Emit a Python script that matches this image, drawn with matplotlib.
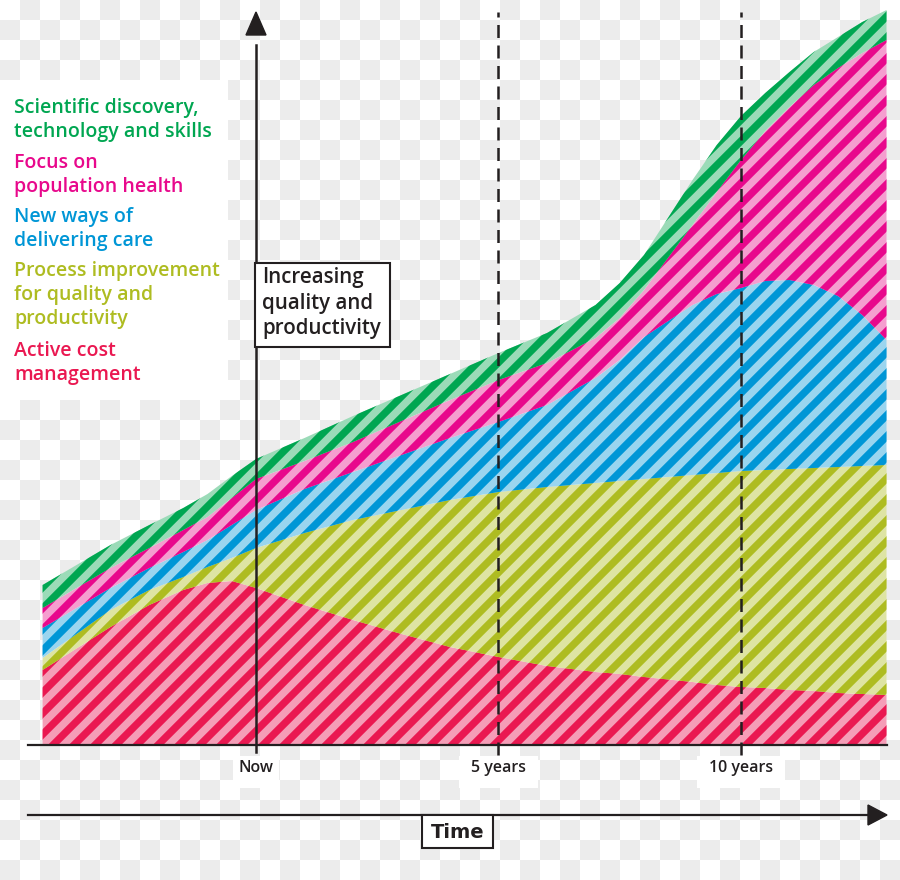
import numpy as np
import matplotlib
matplotlib.use('Agg')
import matplotlib.pyplot as plt
from matplotlib.collections import LineCollection
from matplotlib.patches import Rectangle, Polygon

# time in years relative to "now"
years = [-4.4, -3, -2.2, -1.5, -1, -0.5, 0, 1, 2, 3, 4, 5, 6, 7, 7.5, 8, 9,
         9.5, 10, 10.5, 11, 11.5, 12, 12.5, 13]

# layer thickness (stacked, bottom to top)
cost = [7.5, 11.8, 14.0, 15.5, 16.2, 16.4, 15.7, 14.0, 12.5, 11.1, 9.8, 8.8,
        7.9, 7.3, 7.1, 6.8, 6.3, 6.0, 5.8, 5.7, 5.5, 5.4, 5.2, 5.1, 5.0]
process = [1.2, 1.7, 1.5, 1.3, 1.6, 2.3, 4.0, 7.2, 10.0, 12.4, 14.7, 16.5,
           17.9, 18.9, 19.3, 19.8, 20.7, 21.2, 21.6, 21.8, 22.1, 22.3, 22.6, 22.8, 23.0]
new_ways = [3.0, 2.2, 2.2, 2.5, 2.7, 3.3, 3.8, 4.4, 4.8, 5.5, 6.2, 7.0,
            8.2, 10.5, 12.1, 14.2, 17.0, 17.9, 18.3, 18.9, 18.9, 18.3, 17.1, 15.1, 12.5]
population = [2.0, 2.0, 2.0, 2.2, 2.3, 2.7, 3.1, 2.8, 3.0, 3.4, 3.8, 4.2,
              4.2, 4.0, 4.2, 4.7, 8.0, 10.2, 12.8, 15.0, 17.3, 20.0, 22.8, 26.2, 30.0]
science = [2.3, 2.3, 2.3, 2.2, 2.3, 2.2, 2.0, 2.3, 2.6, 2.6, 2.6, 2.7,
           3.0, 3.3, 3.5, 3.5, 4.5, 4.7, 4.4, 3.8, 3.5, 3.3, 3.1, 3.1, 3.0]

labels = ["Active cost\nmanagement",
          "Process improvement\nfor quality and\nproductivity",
          "New ways of\ndelivering care",
          "Focus on\npopulation health",
          "Scientific discovery,\ntechnology and skills"]
dark = ['#EA1851', '#AEBC21', '#0096D6', '#E8088C', '#00A651']
light = ['#F59DB7', '#DEE4A3', '#9AD5EF', '#F59ECF', '#9BDBB8']

milestones = [0, 5, 10]
milestone_labels = ['Now', '5 years', '10 years']

W, H = 900, 880
ink = '#231F20'
font = ['Open Sans', 'DejaVu Sans']
fig = plt.figure(figsize=(9, 8.8), dpi=100)
ax = fig.add_axes([0, 0, 1, 1])
ax.set_xlim(-256 / 48.5, (W - 256) / 48.5)
ax.set_ylim(-(H - 745) / 10, 74.5)
ax.axis('off')


def fp(x, y):
    # pixel position (from top-left) -> figure fraction
    return (x / W, 1 - y / H)


# transparency checkerboard behind everything
rows, cols = H // 20, W // 20 + 1
board = (np.add.outer(np.arange(rows), np.arange(cols)) % 2).astype(float)
bg = fig.add_axes([0, 0, 1, 1], zorder=-1)
bg.imshow(board, cmap=matplotlib.colors.ListedColormap(['white', '#ECECEC']),
          extent=[0, cols * 20, H, 0], aspect='auto', interpolation='nearest')
bg.set_xlim(0, W)
bg.set_ylim(H, 0)
bg.axis('off')
ax.patch.set_alpha(0)

# stacked areas with diagonal stripes
polys = ax.stackplot(years, cost, process, new_ways, population, science,
                     colors=light, linewidth=0, zorder=2)
offs = np.arange(-H, W + 21, 21)
segs = [[(u / W, 0), ((u + H) / W, 1)] for u in offs]
for poly, c in zip(polys, dark):
    poly.set_edgecolor('none')
    lc = LineCollection(segs, colors=c, linewidths=5.3,
                        transform=fig.transFigure, zorder=2.5)
    lc.set_clip_path(poly.get_paths()[0], poly.get_transform())
    ax.add_collection(lc, autolim=False)

# baseline
ax.plot([(28 - 256) / 48.5, (887 - 256) / 48.5], [0, 0], color=ink, lw=1.6, zorder=5)

# milestone lines and labels
for m, lab in zip(milestones, milestone_labels):
    if m == 0:
        ax.plot([m, m], [-0.7, 70], color=ink, lw=1.8, zorder=5)
        ax.add_patch(Polygon([(m - 10 / 48.5, 71.0), (m + 10 / 48.5, 71.0),
                              (m, 73.3)], closed=True, color=ink, zorder=5))
    else:
        ax.plot([m, m], [-1.0, 73.3], color=ink, lw=1.8, zorder=5,
                linestyle=(0, (5.2, 3.0)))
    px = 256 + 48.5 * m
    bw = 20 + 8.5 * len(lab)
    fig.patches.append(Rectangle(fp(px - bw / 2, 788), bw / W, 32 / H,
                                 transform=fig.transFigure,
                                 facecolor='white', edgecolor='none', zorder=0))
    fig.text(*fp(px, 768), lab, ha='center', va='center', fontsize=11.5,
             fontweight='semibold', family=font, color=ink)

# legend block
fig.patches.append(Rectangle(fp(0, 400), 228 / W, 320 / H, transform=fig.transFigure,
                             facecolor='white', edgecolor='none', zorder=0))
starts = [351, 271, 217, 163, 108]
for lab, c, y0 in zip(labels, dark, starts):
    for k, line in enumerate(lab.split('\n')):
        fig.text(*fp(14, y0 + 24 * k), line, ha='left', va='center', fontsize=14,
                 fontweight='semibold', family=font, color=c)

# y-axis caption box
fig.patches.append(Rectangle(fp(255, 347), 135 / W, 84 / H, transform=fig.transFigure,
                             facecolor='white', edgecolor=ink, lw=1.5, zorder=6))
for k, line in enumerate(['Increasing', 'quality and', 'productivity']):
    fig.text(*fp(262, 278 + 25 * k), line, ha='left', va='center', fontsize=14.8,
             fontweight='semibold', family=font, color=ink, zorder=7)

# time arrow
fig.lines.append(plt.Line2D([28 / W, 870 / W], [1 - 815 / H] * 2, transform=fig.transFigure,
                            color=ink, lw=1.6))
fig.patches.append(Polygon([fp(868, 805), fp(868, 825), fp(887, 815)], closed=True,
                           transform=fig.transFigure, color=ink))
fig.patches.append(Rectangle(fp(422, 848), 71 / W, 33 / H, transform=fig.transFigure,
                             facecolor='white', edgecolor=ink, lw=1.5, zorder=6))
fig.text(*fp(458, 832), 'Time', ha='center', va='center', fontsize=14,
         fontweight='semibold', family=['Liberation Sans Narrow', 'DejaVu Sans'],
         color=ink, zorder=7)

fig.savefig('out.png', dpi=100)
